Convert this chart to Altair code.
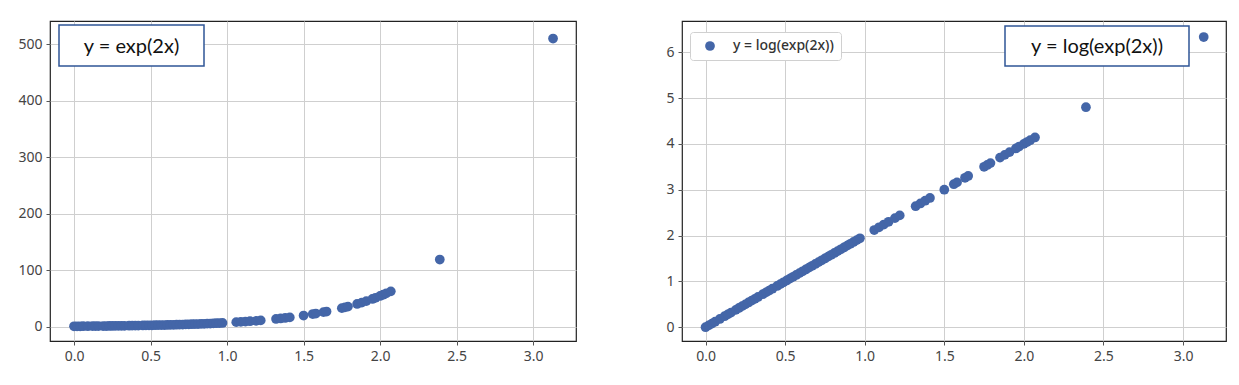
import altair as alt
import pandas as pd

# x positions
x_vals = [0.00, 0.02, 0.04, 0.06, 0.09, 0.12, 0.14, 0.16, 0.19, 0.21, 0.23, 0.25,
          0.27, 0.29, 0.31, 0.33, 0.36, 0.38, 0.40, 0.42, 0.45, 0.47, 0.49, 0.51,
          0.53, 0.55, 0.57, 0.59, 0.61, 0.63, 0.65, 0.67, 0.69, 0.71, 0.73, 0.75,
          0.77, 0.79, 0.81, 0.83, 0.85, 0.87, 0.89, 0.91, 0.93, 0.95, 0.97,
          1.06, 1.09, 1.12, 1.15, 1.19, 1.22, 1.32, 1.35, 1.38, 1.41, 1.50,
          1.56, 1.58, 1.63, 1.65, 1.75, 1.77, 1.79, 1.85, 1.88, 1.91,
          1.95, 1.97, 2.00, 2.02, 2.04, 2.07, 2.39, 3.13]

# left panel: y = exp(2x)
y_exp = [1.00, 1.04, 1.08, 1.13, 1.20, 1.27, 1.32, 1.38, 1.46, 1.52, 1.58, 1.65,
         1.72, 1.79, 1.86, 1.93, 2.05, 2.14, 2.23, 2.32, 2.46, 2.56, 2.66, 2.77,
         2.89, 3.00, 3.13, 3.25, 3.39, 3.53, 3.67, 3.82, 3.97, 4.14, 4.31, 4.48,
         4.66, 4.85, 5.05, 5.26, 5.47, 5.70, 5.93, 6.17, 6.42, 6.69, 6.96,
         8.33, 8.85, 9.39, 9.97, 10.80, 11.47, 14.01, 14.88, 15.80, 16.78, 20.09,
         22.65, 23.57, 26.05, 27.11, 33.12, 34.47, 35.87, 40.45, 42.95, 45.60,
         49.40, 51.42, 54.60, 56.83, 59.15, 62.80, 119.1, 510.0]

# right panel: y = log(exp(2x))
y_log = [0.00, 0.04, 0.08, 0.12, 0.18, 0.24, 0.28, 0.32, 0.38, 0.42, 0.46, 0.50,
         0.54, 0.58, 0.62, 0.66, 0.72, 0.76, 0.80, 0.84, 0.90, 0.94, 0.98, 1.02,
         1.06, 1.10, 1.14, 1.18, 1.22, 1.26, 1.30, 1.34, 1.38, 1.42, 1.46, 1.50,
         1.54, 1.58, 1.62, 1.66, 1.70, 1.74, 1.78, 1.82, 1.86, 1.90, 1.94,
         2.12, 2.18, 2.24, 2.30, 2.38, 2.44, 2.64, 2.70, 2.76, 2.82, 3.00,
         3.12, 3.16, 3.26, 3.30, 3.50, 3.54, 3.58, 3.70, 3.76, 3.82,
         3.90, 3.94, 4.00, 4.04, 4.08, 4.14, 4.80, 6.33]

x_ticks = [0.0, 0.5, 1.0, 1.5, 2.0, 2.5, 3.0]
left_y_ticks = [0, 100, 200, 300, 400, 500]
right_y_ticks = [0, 1, 2, 3, 4, 5, 6]

series_label = "y = log(exp(2x))"
left_note = "y = exp(2x)"
right_note = "y = log(exp(2x))"

POINT_COLOR = "#4466a8"
BOX_COLOR = "#2f5597"

df_left = pd.DataFrame({"x": x_vals, "y": y_exp})
df_right = pd.DataFrame({"x": x_vals, "y": y_log, "series": [series_label] * len(x_vals)})

grid_axis = dict(grid=True, gridColor="#cfcfcf", gridWidth=1, domain=False,
                 tickColor="#555", tickSize=4, labelColor="#444",
                 labelFontSize=14, labelFont="Noto Sans", labelPadding=4, title=None)

def note(text, x0, x1, y0, y1):
    d = pd.DataFrame({"t": [text]})
    box = alt.Chart(d).mark_rect(fill="white", stroke=BOX_COLOR, strokeWidth=1.5).encode(
        x=alt.value(x0), x2=alt.value(x1), y=alt.value(y0), y2=alt.value(y1))
    txt = alt.Chart(d).mark_text(font="Lato", fontSize=20, color="#111",
                                 align="center", baseline="middle").encode(
        text="t:N", x=alt.value((x0 + x1) / 2), y=alt.value((y0 + y1) / 2 + 1))
    return box + txt

left_pts = alt.Chart(df_left).mark_circle(size=95, opacity=1, color=POINT_COLOR).encode(
    x=alt.X("x:Q", scale=alt.Scale(domain=[-0.157, 3.28], nice=False, zero=False),
            axis=alt.Axis(values=x_ticks, format=".1f", **grid_axis)),
    y=alt.Y("y:Q", scale=alt.Scale(domain=[-25, 541], nice=False, zero=False),
            axis=alt.Axis(values=left_y_ticks, **grid_axis)),
)
left = alt.layer(left_pts, note(left_note, 9, 154, 4, 45)).properties(width=526, height=320)

right_pts = alt.Chart(df_right).mark_circle(size=95, opacity=1).encode(
    x=alt.X("x:Q", scale=alt.Scale(domain=[-0.148, 3.27], nice=False, zero=False),
            axis=alt.Axis(values=x_ticks, format=".1f", **grid_axis)),
    y=alt.Y("y:Q", scale=alt.Scale(domain=[-0.30, 6.68], nice=False, zero=False),
            axis=alt.Axis(values=right_y_ticks, **grid_axis)),
    color=alt.Color("series:N", scale=alt.Scale(range=[POINT_COLOR]),
                    legend=alt.Legend(title=None, orient="none", legendX=8, legendY=11,
                                      fillColor="white", strokeColor="#d0d0d0",
                                      cornerRadius=3, padding=7, symbolSize=95,
                                      symbolType="circle", labelFontSize=14,
                                      labelOffset=16, symbolOffset=6,
                                      labelFont="Noto Sans", labelColor="#333",
                                      labelFontWeight=500)),
)
right = alt.layer(right_pts, note(right_note, 323, 507, 5, 45)).properties(width=544, height=320)

chart = alt.hconcat(left, right, spacing=88).resolve_scale(color="independent").resolve_legend(
    color="independent"
).properties(
    padding={"left": 17, "top": 20, "right": 5, "bottom": 5},
    background="white",
).configure_view(stroke="#222", strokeWidth=1.2)

chart.save("out.html", embed_options={"renderer": "svg", "actions": False})
